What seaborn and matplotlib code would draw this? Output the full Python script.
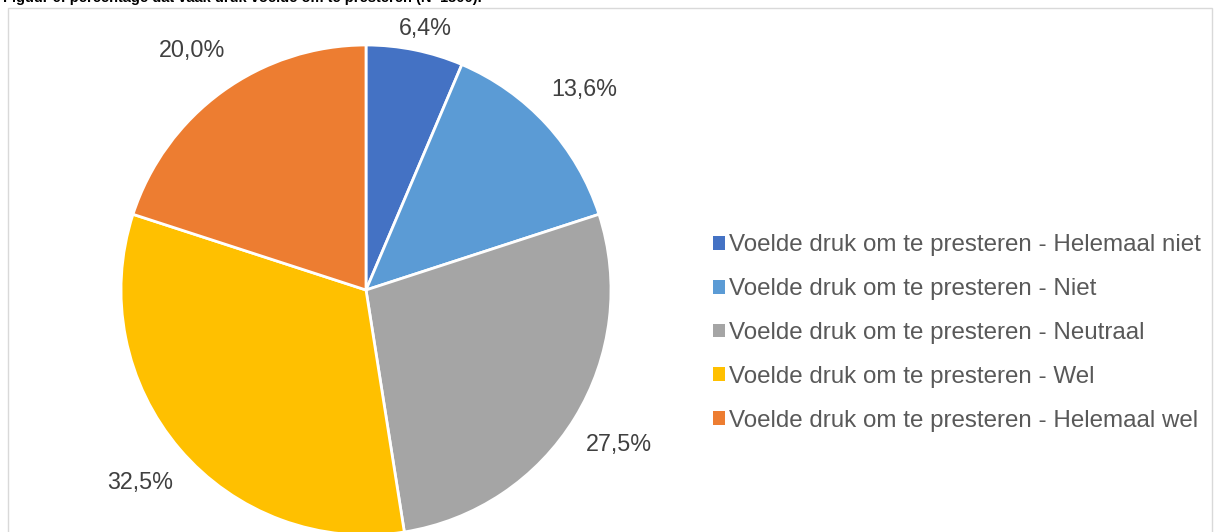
import seaborn as sns
import matplotlib.pyplot as plt
from matplotlib.patches import Rectangle, Patch

categories = ["Voelde druk om te presteren - Helemaal niet",
              "Voelde druk om te presteren - Niet",
              "Voelde druk om te presteren - Neutraal",
              "Voelde druk om te presteren - Wel",
              "Voelde druk om te presteren - Helemaal wel"]
values = [6.4, 13.6, 27.5, 32.5, 20.0]
pct_labels = ["6,4%", "13,6%", "27,5%", "32,5%", "20,0%"]
colors = ["#4472C4", "#5B9BD5", "#A5A5A5", "#FFC000", "#ED7D31"]

sns.set_theme(style="white")
plt.rcParams['font.family'] = ['Liberation Sans', 'DejaVu Sans']

W, H = 1220, 532
fig = plt.figure(figsize=(W / 100, H / 100), dpi=100)

# chart frame
fig.patches.append(Rectangle((8 / W, -0.1), (1212 - 8) / W, (H - 8) / H + 0.1,
                             transform=fig.transFigure, fill=False,
                             edgecolor="#D9D9D9", linewidth=1))

# caption, cut off at the top edge
fig.text(3 / W, 1 - 2 / H, "Figuur 6: percentage dat vaak druk voelde om te presteren (N=1300).",
         fontsize=10.5, fontweight="bold", color="black", ha="left", va="baseline")

cx, cy, r = 366, 290, 245
ax = fig.add_axes([(cx - r) / W, (H - cy - r) / H, 2 * r / W, 2 * r / H])
wedges, texts = ax.pie(values, colors=colors, startangle=90, counterclock=False,
                       labels=pct_labels, labeldistance=1.21,
                       wedgeprops=dict(edgecolor="white", linewidth=2),
                       textprops=dict(fontsize=16.8, color="#404040"))
# keep labels inside the chart frame
ymax = (cy - 28) / r
for t in texts:
    t.set_ha("center")
    t.set_va("center")
    x, y = t.get_position()
    t.set_position((x, min(y, ymax)))
ax.set_xlim(-1, 1)
ax.set_ylim(-1, 1)
ax.set_aspect("equal")
ax.axis("off")

handles = [Patch(facecolor=c, edgecolor="none") for c in colors]
fig.legend(handles, categories, loc="center left",
           bbox_to_anchor=(713 / W, 1 - 333 / H), frameon=False,
           fontsize=17.4, labelcolor="#595959", handlelength=0.5, handleheight=0.5,
           handletextpad=0.15, labelspacing=0.9, borderpad=0, borderaxespad=0)

fig.savefig("out.png", dpi=100)
